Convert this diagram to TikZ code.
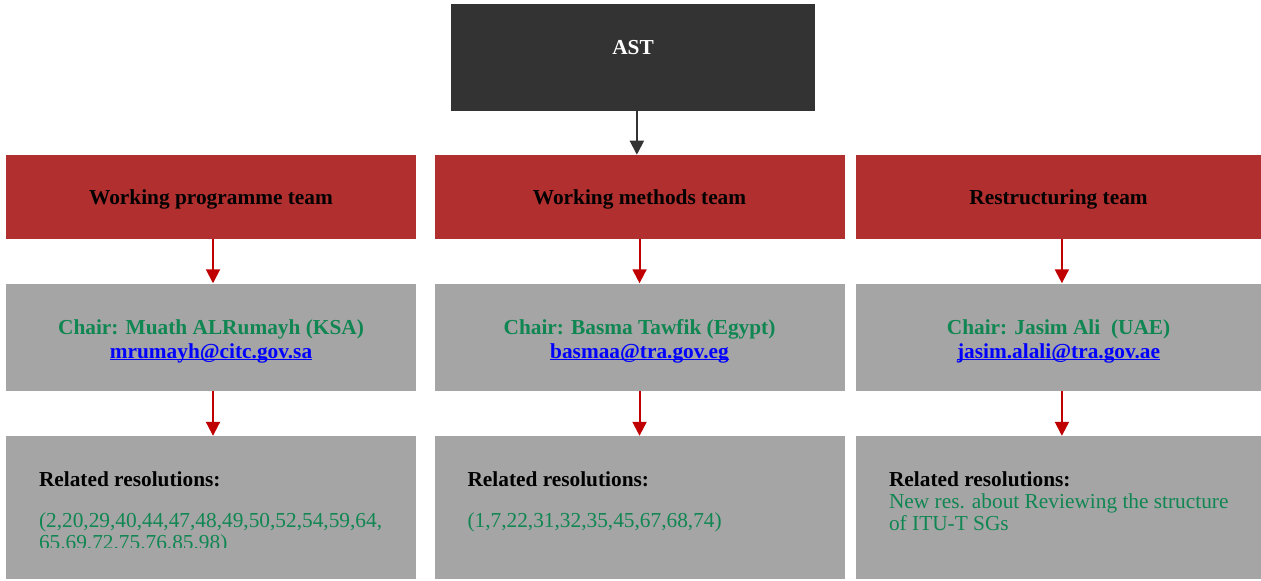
\documentclass[tikz,border=0pt]{standalone}
\usepackage{fontspec}
\setmainfont{Liberation Serif}
\usetikzlibrary{positioning, arrows.meta}
\definecolor{astgrey}{HTML}{333333}
\definecolor{teamred}{HTML}{B22F2F}
\definecolor{boxgrey}{HTML}{A5A5A5}
\definecolor{chairgreen}{HTML}{108652}
\definecolor{arrowred}{HTML}{C00000}
\definecolor{linkblue}{HTML}{0000FF}
\newcommand\boxfont{\fontsize{16}{18}\selectfont}
\newcommand\maillink[1]{{\color{linkblue}\setbox0\hbox{#1}\rlap{\rule[-1.6pt]{\wd0}{1.2pt}}\box0}}
\tikzstyle{head} = [rectangle, minimum width=273pt, minimum height=80.25pt, text depth=15pt, fill=astgrey, text=white, font=\boxfont\bfseries]
\tikzstyle{team} = [rectangle, minimum width=307.5pt, minimum height=63pt, inner sep=0pt, text height=15pt, fill=teamred, text=black, font=\boxfont\bfseries]
\tikzstyle{chair} = [rectangle, minimum width=307.5pt, minimum height=80.25pt, inner sep=0pt, fill=boxgrey, align=center, text=chairgreen, font=\boxfont\bfseries]
\tikzstyle{res} = [rectangle, minimum width=307.5pt, minimum height=107.25pt, inner sep=0pt, fill=boxgrey]
\tikzstyle{restext} = [anchor=north west, align=left, inner sep=0pt, text=chairgreen, font=\fontsize{16}{16.5}\selectfont]
\tikzstyle{flow} = [line width=1.5pt, draw=arrowred, -{Triangle[width=10.5pt,length=10.5pt]}]
\tikzstyle{topflow} = [flow, draw=astgrey]

\begin{document}
\begin{tikzpicture}
		\useasboundingbox (0,0) rectangle (945.75pt,-435.75pt);
		\node (ast) [head] at (474.75pt,-43.125pt) {AST};
		\node (wpt) [team] at (158.25pt,-147.75pt) {Working programme team};
		\node (wmt) [team, right=13.5pt of wpt] {Working methods team};
		\node (rst) [team, right=8.25pt of wmt, minimum width=303.75pt] {Restructuring team};

		\node (chair1) [chair, below=33pt of wpt] {\rule{0pt}{17pt}Chair: Muath ALRumayh (KSA)\\\maillink{mrumayh@citc.gov.sa}};
		\node (chair2) [chair, below=33pt of wmt] {\rule{0pt}{17pt}Chair: Basma Tawfik (Egypt)\\\maillink{basmaa@tra.gov.eg}};
		\node (chair3) [chair, below=33pt of rst, minimum width=303.75pt] {\rule{0pt}{17pt}Chair: Jasim Ali~ (UAE)\\\maillink{jasim.alali@tra.gov.ae}};

		\node (res1) [res, below=33.75pt of chair1] {};
		\node (res2) [res, below=33.75pt of chair2] {};
		\node (res3) [res, below=33.75pt of chair3, minimum width=303.75pt] {};

		\begin{scope}
			\clip (res1.north west) rectangle ([yshift=-84pt]res1.north east);
			\node (restxt1) [restext] at ([xshift=24.75pt, yshift=-26.5pt]res1.north west)
				{\textcolor{black}{\bfseries Related resolutions:}\\[14.25pt](2,20,29,40,44,47,48,49,50,52,54,59,64,\\65.69.72.75.76.85.98)};
		\end{scope}
		\node (restxt2) [restext] at ([xshift=24.75pt, yshift=-26.5pt]res2.north west)
			{\textcolor{black}{\bfseries Related resolutions:}\\[14.25pt](1,7,22,31,32,35,45,67,68,74)};
		\node (restxt3) [restext] at ([xshift=24.75pt, yshift=-26.5pt]res3.north west)
			{\textcolor{black}{\bfseries Related resolutions:}\\New res. about Reviewing the structure\\of ITU-T SGs};

		\draw [topflow] ([xshift=-2pt]ast.south -| wmt) -- ([xshift=-2pt]wmt.north);
		\draw [flow] ([xshift=1.5pt]wpt.south) -- ([xshift=1.5pt]chair1.north);
		\draw [flow] (wmt) -- (chair2);
		\draw [flow] ([xshift=2.5pt]rst.south) -- ([xshift=2.5pt]chair3.north);
		\draw [flow] ([xshift=1.5pt]chair1.south) -- ([xshift=1.5pt]res1.north);
		\draw [flow] (chair2) -- (res2);
		\draw [flow] ([xshift=2.5pt]chair3.south) -- ([xshift=2.5pt]res3.north);
	  \end{tikzpicture}
\end{document}
